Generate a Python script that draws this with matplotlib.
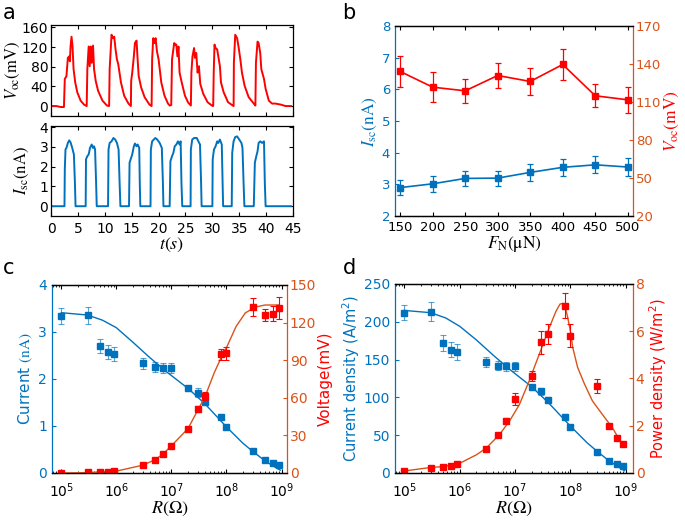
import matplotlib
matplotlib.use("Agg")
import matplotlib.pyplot as plt
import numpy as np

plt.rcParams["font.family"] = "DejaVu Sans"
plt.rcParams["mathtext.fontset"] = "stix"
plt.rcParams["font.size"] = 10

BLUE = "#0072BD"
ORANGE = "#D95319"
RED = "#FF0000"

# ---- panel a: time traces (vertices)
t_voc = [0, 1.0, 1.8, 2.4, 2.56, 2.87, 3.13, 3.38, 3.5, 3.63, 3.81, 4.0, 4.19, 4.5, 4.88, 5.5, 6.13, 6.63,
         6.75, 7.0, 7.19, 7.38, 7.56, 7.81, 8.0, 8.31, 8.75, 9.56, 10.4, 10.8,
         10.9, 11.0, 11.25, 11.5, 11.75, 12.0, 12.25, 12.5, 13.0, 13.6, 14.4, 14.85,
         14.9, 15.1, 15.4, 15.6, 15.9, 16.1, 16.3, 16.75, 17.4, 18.3, 18.7,
         18.8, 19.0, 19.25, 19.44, 19.7, 20.0, 20.5, 21.1, 21.75, 22.06, 22.35,
         22.5, 22.9, 23.1, 23.3, 23.5, 23.7, 23.9, 24.3, 24.9, 25.5, 26.0,
         26.1, 26.3, 26.6, 26.75, 27.0, 27.25, 27.5, 27.75, 28.3, 29.1, 29.9, 30.15,
         30.25, 30.4, 30.6, 30.9, 31.1, 31.4, 31.6, 32.1, 32.9, 33.8, 33.95,
         34.0, 34.25, 34.6, 34.9, 35.2, 35.5, 36.0, 36.75, 37.7, 38.0,
         38.1, 38.4, 38.6, 38.9, 39.1, 39.6, 39.9, 40.5, 41.1, 41.75, 42.7, 43.6, 44.6]
voc = [0, 0, -2, -2, 55, 61, 98, 101, 91, 121, 141, 121, 75, 48, 28, 11, 3, 0,
       75, 121, 81, 121, 88, 123, 75, 51, 31, 11, 1, 0,
       75, 95, 145, 138, 141, 115, 95, 85, 48, 21, 5, 0,
       51, 68, 101, 128, 133, 95, 61, 38, 18, 3, 0,
       95, 138, 128, 138, 111, 95, 48, 21, 5, 1, 2,
       95, 128, 125, 125, 101, 121, 68, 48, 21, 7, 1,
       68, 101, 118, 98, 108, 68, 81, 45, 25, 8, 1, 0,
       68, 125, 118, 115, 101, 81, 48, 28, 8, 1, 0,
       88, 145, 138, 118, 95, 68, 41, 18, 5, 1,
       88, 131, 128, 108, 75, 55, 35, 11, 5, 5, 3, 0, 0]

t_isc = [0, 2.5, 2.56, 2.69, 2.87, 3.13, 3.38, 3.63, 3.94, 4.25, 4.44, 4.56,
         6.44, 6.5, 6.75, 7.0, 7.25, 7.56, 7.8, 8.0, 8.19, 8.38, 8.5,
         10.6, 10.69, 10.9, 11.25, 11.6, 11.94, 12.25, 12.56, 12.75, 12.9,
         14.5, 14.6, 14.9, 15.1, 15.4, 15.6, 15.9, 16.1, 16.4, 16.5, 16.6,
         18.5, 18.56, 18.8, 19.1, 19.4, 19.75, 20.2, 20.6, 20.8, 20.9,
         22.06, 22.2, 22.5, 22.75, 23.0, 23.3, 23.6, 23.9, 24.1, 24.25, 24.4,
         25.95, 26.0, 26.25, 26.6, 27.1, 27.4, 27.7, 27.9, 28.0,
         30.0, 30.06, 30.3, 30.6, 30.9, 31.1, 31.4, 31.75, 31.9, 32.0,
         33.6, 33.69, 33.94, 34.25, 34.6, 35.0, 35.4, 35.6, 35.8, 35.95,
         37.7, 37.9, 38.1, 38.4, 38.6, 38.9, 39.25, 39.6, 39.75, 39.9, 44.6]
isc = [0, 0, 1.87, 2.87, 2.95, 3.2, 3.33, 3.23, 2.95, 2.62, 1.2, 0,
       0, 2.37, 2.53, 2.62, 2.95, 3.12, 2.95, 3.03, 2.87, 1.2, 0,
       0, 2.87, 3.2, 3.28, 3.45, 3.37, 3.2, 2.87, 1.2, 0,
       0, 2.2, 2.45, 2.62, 3.03, 3.17, 3.03, 3.12, 2.95, 1.2, 0,
       0, 2.87, 3.28, 3.37, 3.45, 3.37, 3.2, 2.95, 1.2, 0,
       0, 2.28, 2.53, 2.7, 3.03, 3.12, 3.28, 3.12, 3.28, 1.2, 0,
       0, 2.87, 3.37, 3.45, 3.45, 3.28, 3.12, 1.2, 0,
       0, 2.37, 2.87, 3.03, 3.28, 3.2, 3.37, 3.12, 1.2, 0,
       0, 2.7, 3.28, 3.5, 3.53, 3.37, 3.2, 2.95, 1.2, 0,
       0, 2.2, 2.45, 2.78, 3.2, 3.28, 3.2, 3.28, 1.2, 0, 0]

# ---- panel b
force = [150, 200, 250, 300, 350, 400, 450, 500]
isc_b = [2.9, 3.02, 3.19, 3.2, 3.38, 3.54, 3.62, 3.55]
isc_b_err = [0.23, 0.26, 0.24, 0.24, 0.27, 0.27, 0.27, 0.28]
voc_b = [134.2, 121.8, 118.9, 131, 126.3, 139.7, 115, 111.8]
voc_b_err = [12, 12, 9.5, 9.6, 11, 12.6, 9.2, 10.5]

# ---- panels c, d
res = [1e5, 3e5, 5e5, 7e5, 9e5, 3e6, 5e6, 7e6, 1e7, 2e7, 3e7, 4e7, 8e7, 1e8, 3e8, 5e8, 7e8, 9e8]
cur = [3.34, 3.36, 2.71, 2.57, 2.54, 2.33, 2.25, 2.23, 2.23, 1.80, 1.71, 1.52, 1.20, 0.97, 0.46, 0.28, 0.21, 0.16]
cur_err = [0.16, 0.18, 0.15, 0.15, 0.15, 0.12, 0.11, 0.11, 0.10, 0.05, 0.09, 0.04, 0.05, 0.03, 0.02, 0.02, 0.02, 0.02]
volt = [0.2, 0.5, 0.8, 1.0, 1.6, 6.2, 10.5, 15, 21.7, 35.4, 51, 61.4, 94.7, 95.5, 132.5, 126, 127, 131.7]
volt_err = [0.3, 0.3, 0.3, 0.3, 0.4, 0.5, 0.6, 0.8, 1.0, 1.2, 2.7, 3.0, 4.5, 5, 7, 5, 6, 8.7]
jden = [212, 213.5, 171.7, 162.8, 160, 146.8, 142, 141, 141, 113.4, 108, 96, 74.7, 60.5, 28, 16.5, 11.6, 8.9]
jden_err = [10, 12, 11, 10, 10, 7, 6, 6, 6, 3, 5, 4, 3, 2, 1.5, 1, 1, 1]
pden = [0.085, 0.2, 0.24, 0.3, 0.38, 1.02, 1.59, 2.22, 3.13, 4.1, 5.54, 5.88, 7.07, 5.81, 3.67, 1.98, 1.47, 1.21]
pden_err = [0.02, 0.03, 0.03, 0.03, 0.04, 0.05, 0.06, 0.1, 0.24, 0.21, 0.49, 0.41, 0.53, 0.49, 0.29, 0.06, 0.05, 0.05]

# fitted curves
res_fit_i = [1e5, 3e5, 5.6e5, 1e6, 2e6, 4e6, 8e6, 2e7, 4e7, 1e8, 2e8, 3e8, 5e8, 7e8, 9.5e8]
cur_fit = [3.41, 3.36, 3.25, 3.09, 2.78, 2.46, 2.16, 1.80, 1.48, 0.98, 0.63, 0.46, 0.26, 0.15, 0.06]
res_fit_v = [1e5, 3e5, 1e6, 3e6, 5e6, 7e6, 1e7, 2e7, 3e7, 4e7, 6e7, 8e7, 1e8, 1.5e8, 2.2e8, 3.3e8, 5e8, 9e8]
volt_fit = [0, 0.3, 1.5, 6.2, 10.5, 15, 21.7, 35.4, 50, 60, 80, 92, 100, 117, 127.7, 132.3, 134, 134]
jden_fit = [215, 212, 205, 194, 176, 156, 137, 114, 93, 62, 40, 29, 16, 9, 3]
res_fit_p = [1e5, 2.9e5, 5e5, 1e6, 2e6, 3e6, 5.2e6, 7.9e6, 1.2e7, 1.8e7, 2.75e7, 4.2e7, 5.5e7, 6.5e7,
             7.3e7, 8e7, 8.9e7, 1e8, 1.1e8, 1.35e8, 1.8e8, 2.5e8, 3.8e8, 5.8e8, 8.7e8]
pden_fit = [0.085, 0.23, 0.27, 0.41, 0.77, 1.05, 1.62, 2.19, 2.9, 3.9, 5.04, 6.18, 6.85, 7.15,
            7.18, 7.05, 6.6, 6.0, 5.32, 4.47, 3.76, 3.05, 2.47, 1.9, 1.19]


def style_box(ax):
    ax.tick_params(direction="in", top=True, right=True, length=3, width=0.8)
    for s in ax.spines.values():
        s.set_linewidth(0.9)


def style_twin(ax, ax2):
    ax.tick_params(axis="x", direction="in", top=True, length=3, width=0.8)
    ax.tick_params(axis="x", which="minor", direction="in", top=True, length=1.6, width=0.6)
    ax.tick_params(axis="y", direction="in", colors=BLUE, length=3, width=0.8)
    ax2.tick_params(axis="y", direction="in", colors=ORANGE, length=3, width=0.8)
    ax.spines["left"].set_color(BLUE)
    ax.spines["right"].set_visible(False)
    ax2.spines["left"].set_visible(False)
    ax2.spines["right"].set_color(ORANGE)
    for s in list(ax.spines.values()) + list(ax2.spines.values()):
        s.set_linewidth(0.9)


def main():
    fig = plt.figure(figsize=(6.85, 5.22), dpi=100)

    # a
    ax_v = fig.add_axes([0.0745, 0.778, 0.3533, 0.1743])
    ax_v.plot(t_voc, voc, color=RED, lw=1.4)
    ax_v.set_xlim(0, 45)
    ax_v.set_ylim(-20, 165)
    ax_v.set_yticks([0, 40, 80, 120, 160])
    ax_v.set_xticks(range(0, 46, 5))
    ax_v.set_xticklabels([])
    ax_v.set_ylabel(r"$V_{\mathrm{oc}}(\mathrm{mV})$", fontsize=12, labelpad=0)
    style_box(ax_v)
    ax_v.tick_params(labelsize=10, pad=2)

    ax_i = fig.add_axes([0.0745, 0.586, 0.3533, 0.1724])
    ax_i.plot(t_isc, isc, color=BLUE, lw=1.4)
    ax_i.set_xlim(0, 45)
    ax_i.set_ylim(-0.5, 4.05)
    ax_i.set_yticks([0, 1, 2, 3, 4])
    ax_i.set_xticks(range(0, 46, 5))
    ax_i.set_ylabel(r"$I_{\mathrm{sc}}(\mathrm{nA})$", fontsize=12, labelpad=6)
    ax_i.set_xlabel(r"$t(s)$", fontsize=13, labelpad=0)
    style_box(ax_i)
    ax_i.tick_params(labelsize=10, pad=2)
    ax_i.tick_params(axis="x", pad=4)

    # b
    ax_b = fig.add_axes([0.5766, 0.586, 0.3474, 0.364])
    ax_b2 = ax_b.twinx()
    ax_b.errorbar(force, isc_b, yerr=isc_b_err, fmt="-s", color=BLUE, ms=4, lw=1.2,
                  elinewidth=0.9, capsize=2.5, capthick=0.9)
    ax_b2.errorbar(force, voc_b, yerr=voc_b_err, fmt="-s", color=RED, ms=4, lw=1.2,
                   elinewidth=0.9, capsize=2.5, capthick=0.9)
    ax_b.set_xlim(142, 508)
    ax_b.set_ylim(2, 8)
    ax_b2.set_ylim(20, 170)
    ax_b.set_xticks(force)
    ax_b2.set_yticks([20, 50, 80, 110, 140, 170])
    ax_b.set_ylabel(r"$I_{\mathrm{sc}}(\mathrm{nA})$", color=BLUE, fontsize=12.5, labelpad=2)
    ax_b2.set_ylabel(r"$V_{\mathrm{oc}}(\mathrm{mV})$", color=RED, fontsize=12.5, labelpad=1)
    ax_b.set_xlabel(r"$F_{\mathrm{N}}(\mathrm{\mu N})$", fontsize=12.5, labelpad=0)
    style_twin(ax_b, ax_b2)
    ax_b.tick_params(labelsize=9.5)
    ax_b2.tick_params(labelsize=9.5, pad=2)

    # c
    ax_c = fig.add_axes([0.0759, 0.0939, 0.3431, 0.3602])
    ax_c2 = ax_c.twinx()
    ax_c.plot(res_fit_i, cur_fit, color=BLUE, lw=1.0)
    ax_c.errorbar(res, cur, yerr=cur_err, fmt="s", color=BLUE, ms=4,
                  ecolor=(0.0, 0.447, 0.741, 0.65), elinewidth=0.8, capsize=2.5, capthick=0.8)
    ax_c2.plot(res_fit_v, volt_fit, color=ORANGE, lw=1.0)
    ax_c2.errorbar(res, volt, yerr=volt_err, fmt="s", color=RED, ms=4,
                   elinewidth=0.8, capsize=2.5, capthick=0.8)
    ax_c.set_xscale("log")
    ax_c.set_xlim(10 ** 4.83, 10 ** 9.10)
    ax_c.set_ylim(0, 4)
    ax_c2.set_ylim(0, 150)
    ax_c.set_xticks([1e5, 1e6, 1e7, 1e8, 1e9])
    ax_c.set_yticks([0, 1, 2, 3, 4])
    ax_c2.set_yticks([0, 30, 60, 90, 120, 150])
    ax_c.set_ylabel(r"Current $(\mathrm{nA})$", color=BLUE, fontsize=11, labelpad=2)
    ax_c2.set_ylabel("Voltage(mV)", color=RED, fontsize=11, labelpad=1)
    ax_c.set_xlabel(r"$R(\Omega)$", fontsize=13, labelpad=0)
    style_twin(ax_c, ax_c2)
    ax_c.tick_params(labelsize=10)
    ax_c.tick_params(axis="x", pad=6)
    ax_c2.tick_params(labelsize=10, pad=2)

    # d
    ax_d = fig.add_axes([0.5766, 0.0939, 0.3474, 0.3621])
    ax_d2 = ax_d.twinx()
    ax_d.plot(res_fit_i, jden_fit, color=BLUE, lw=1.0)
    ax_d.errorbar(res, jden, yerr=jden_err, fmt="s", color=BLUE, ms=4,
                  ecolor=(0.0, 0.447, 0.741, 0.65), elinewidth=0.8, capsize=2.5, capthick=0.8)
    ax_d2.plot(res_fit_p, pden_fit, color=ORANGE, lw=1.0)
    ax_d2.errorbar(res, pden, yerr=pden_err, fmt="s", color=RED, ms=4,
                   elinewidth=0.8, capsize=2.5, capthick=0.8)
    ax_d.set_xscale("log")
    ax_d.set_xlim(10 ** 4.83, 10 ** 9.13)
    ax_d.set_ylim(0, 250)
    ax_d2.set_ylim(0, 8)
    ax_d.set_xticks([1e5, 1e6, 1e7, 1e8, 1e9])
    ax_d.set_yticks([0, 50, 100, 150, 200, 250])
    ax_d2.set_yticks([0, 2, 4, 6, 8])
    ax_d.set_ylabel(r"Current density (A/m$^{\mathdefault{2}}$)", color=BLUE, fontsize=10.5, labelpad=2)
    ax_d2.set_ylabel(r"Power density (W/m$^{\mathdefault{2}}$)", color=RED, fontsize=10.5, labelpad=2)
    ax_d.set_xlabel(r"$R(\Omega)$", fontsize=13, labelpad=0)
    style_twin(ax_d, ax_d2)
    ax_d.tick_params(labelsize=10)
    ax_d.tick_params(axis="x", pad=6)
    ax_d2.tick_params(labelsize=10, pad=2)

    for x, y, s in [(0.004, 0.995, "a"), (0.5, 0.995, "b"), (0.004, 0.505, "c"), (0.5, 0.505, "d")]:
        fig.text(x, y, s, fontsize=15, va="top", ha="left")

    fig.savefig("out.png", dpi=100)


if __name__ == "__main__":
    main()
